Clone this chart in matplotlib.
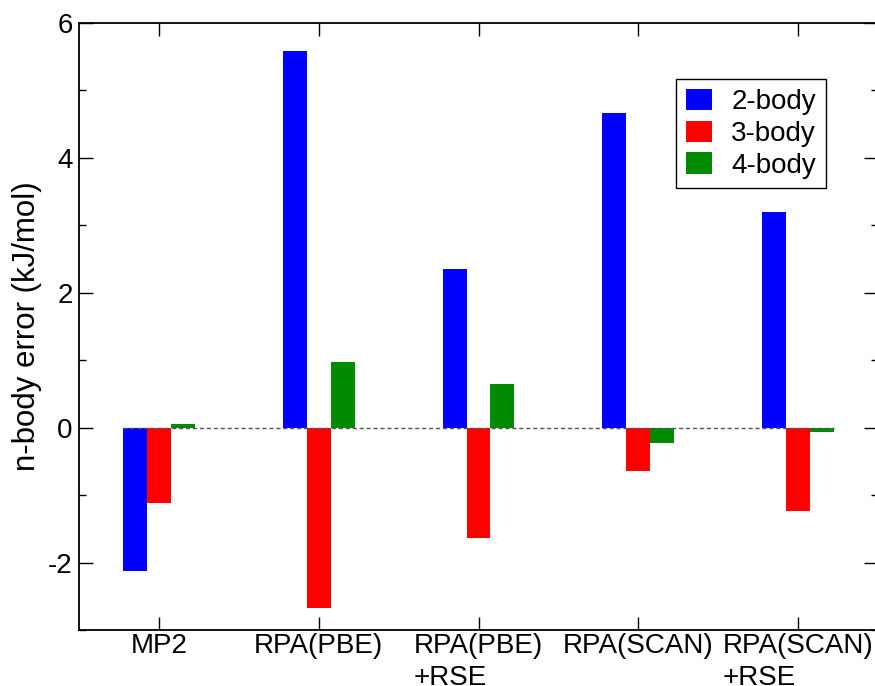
import matplotlib
matplotlib.use("Agg")
import matplotlib.pyplot as plt
from matplotlib.ticker import MultipleLocator
import numpy as np

plt.rcParams['font.family'] = ['Liberation Sans', 'DejaVu Sans']
plt.rcParams['axes.unicode_minus'] = False

categories = ["MP2", "RPA(PBE)", "RPA(PBE)\n+RSE", "RPA(SCAN)", "RPA(SCAN)\n+RSE"]
two_body = [-2.13, 5.58, 2.35, 4.66, 3.19]
three_body = [-1.12, -2.67, -1.64, -0.64, -1.24]
four_body = [0.06, 0.97, 0.65, -0.23, -0.07]
series_names = ["2-body", "3-body", "4-body"]
colors = ["#0000ff", "#ff0000", "#008b00"]

fig = plt.figure(figsize=(8.75, 6.86), dpi=100)
ax = fig.add_axes([79/875, 56/686, 799/875, 607.3/686])

x = np.arange(1, len(categories) + 1)
w = 0.15
for i, (vals, name, c) in enumerate(zip([two_body, three_body, four_body], series_names, colors)):
    ax.bar(x + (i - 1) * w, vals, width=w, color=c, label=name, linewidth=0)

ax.hlines(0, x[0] - 1.5 * w, x[-1] + 1.5 * w, colors="#555555", linestyles=(0, (3, 2)), linewidth=1, zorder=3)

ax.set_xlim(0.5, len(categories) + 0.5)
ax.set_ylim(-3, 6)
ax.set_xticks(x)
ax.set_xticklabels(categories, fontsize=20, multialignment='left', linespacing=1.3)
ax.yaxis.set_major_locator(MultipleLocator(2))
ax.yaxis.set_minor_locator(MultipleLocator(1))
ax.tick_params(axis='y', which='major', direction='in', length=10, width=1, labelsize=20, right=True, left=True, pad=4.5)
ax.tick_params(axis='y', which='minor', direction='in', length=5, width=1, right=True, left=True)
ax.tick_params(axis='x', which='major', direction='in', length=9.5, width=1, top=True, bottom=True, pad=2)
for s in ax.spines.values():
    s.set_linewidth(1.3)

ax.set_ylabel("n-body error (kJ/mol)", fontsize=22.5)
ax.yaxis.set_label_coords((42.5 - 79) / 799, 0.5)

leg = ax.legend(loc='upper left', bbox_to_anchor=((676-79)/799, (630-79)/607.3), fontsize=20,
                fancybox=False, edgecolor='black', framealpha=1, handlelength=0.94, handleheight=0.8,
                handletextpad=0.7, labelspacing=0.2, borderpad=0.35, borderaxespad=0)
leg.get_frame().set_linewidth(1)

fig.savefig("out.png", dpi=100)
